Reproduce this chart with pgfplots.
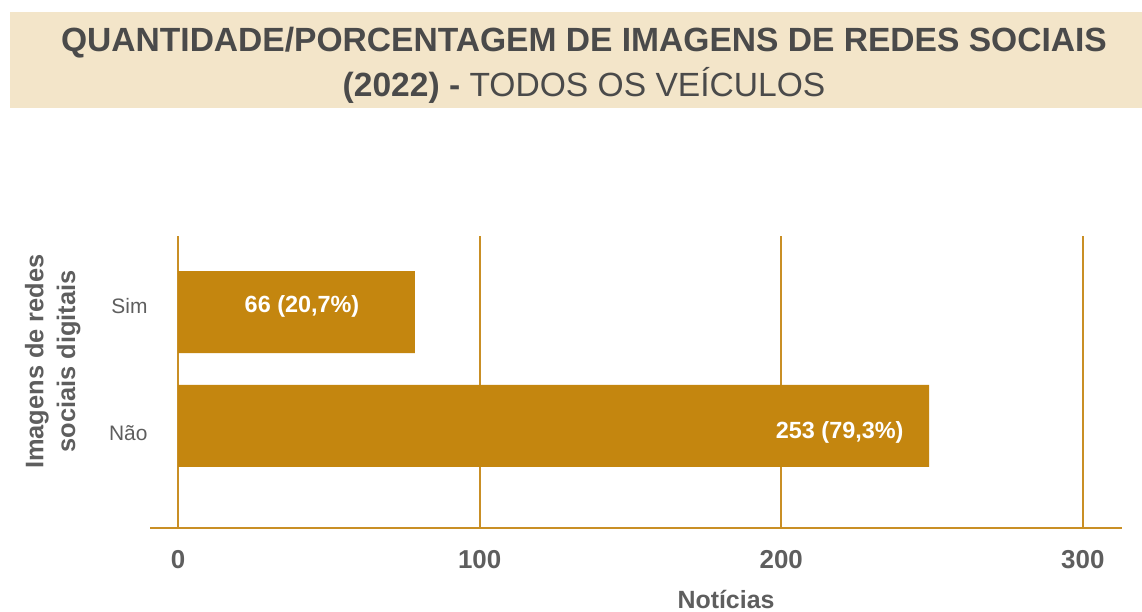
\documentclass[border=0pt]{standalone}
\usepackage{pgfplots}
\pgfplotsset{compat=1.18}
\usepackage{fontspec}
\setmainfont{Liberation Sans}
\definecolor{barc}{HTML}{C4860F}
\definecolor{gridc}{HTML}{C98F25}
\definecolor{band}{HTML}{F3E5C9}
\definecolor{ttl}{HTML}{4A4A4A}
\definecolor{lab}{HTML}{5E5E5E}
\begin{document}
\begin{tikzpicture}[x=1bp,y=1bp]
\fill[white] (0,0) rectangle (1142,608);
\fill[band] (10,500) rectangle (1142,596);
\node[text=ttl, font=\fontsize{33.7}{40}\selectfont\bfseries] at (584,565) {QUANTIDADE/PORCENTAGEM DE IMAGENS DE REDES SOCIAIS};
\node[text=ttl, font=\fontsize{33.7}{40}\selectfont] at (584,523) {\textbf{(2022) -} TODOS OS VEÍCULOS};
\begin{axis}[
  at={(150bp,80bp)}, anchor=south west,
  width=972bp, height=292bp, scale only axis,
  xbar, bar width=82bp,
  xmin=-9.3, xmax=313, ymin=-0.895, ymax=1.667,
  ytick={-0.061,1.053}, yticklabels={Não,Sim},
  xtick={0,100,200,300},
  axis lines*=left, separate axis lines,
  x axis line style={draw=gridc, line width=1.5bp, -},
  y axis line style={draw=none},
  major tick length=0pt,
  xmajorgrids, grid style={draw=gridc, line width=1.8bp},
  xticklabel style={font=\fontsize{26}{30}\selectfont\bfseries, text=lab, yshift=-19bp},
  yticklabel style={font=\fontsize{21}{24}\selectfont, text=lab, xshift=1bp},
  /pgf/number format/assume math mode=true,
  xlabel={Notícias},
  xlabel style={font=\fontsize{25}{28}\selectfont\bfseries, text=lab, at={(axis description cs:0.5926,-0.2)}, anchor=north},
  ylabel={Imagens de redes\\sociais digitais},
  ylabel style={font=\fontsize{25.5}{32}\selectfont\bfseries, text=lab, align=center, at={(axis description cs:-0.1,0.57)}, anchor=center},
]
\addplot[fill=barc, draw=none] coordinates {(249,0) (78.5,1)};
\node[text=white, font=\fontsize{23.5}{26}\selectfont\bfseries] at (axis cs:41.1,1.053) {66 (20,7\%)};
\node[text=white, font=\fontsize{23.5}{26}\selectfont\bfseries, anchor=east] at (axis cs:241.7,-0.053) {253 (79,3\%)};
\end{axis}
\end{tikzpicture}
\end{document}
